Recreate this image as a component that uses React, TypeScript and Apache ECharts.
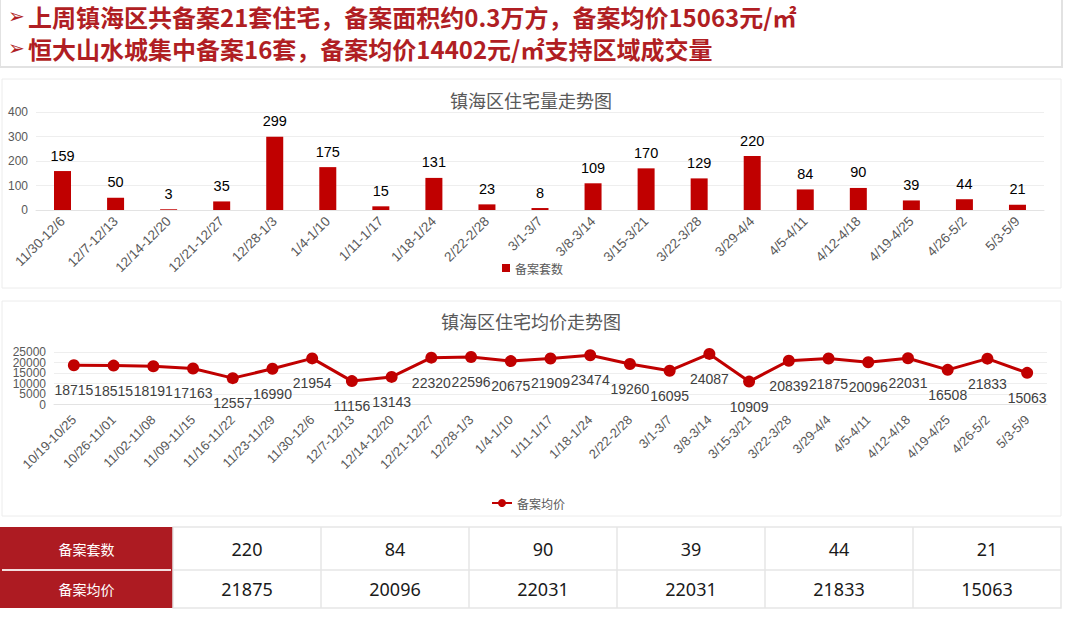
import React, { useEffect, useRef } from "react";
import * as echarts from "echarts";

const headerLines = [
  "上周镇海区共备案21套住宅，备案面积约0.3万方，备案均价15063元/㎡",
  "恒大山水城集中备案16套，备案均价14402元/㎡支持区域成交量",
];

const barTitle = "镇海区住宅量走势图";
const lineTitle = "镇海区住宅均价走势图";
const barSeriesName = "备案套数";
const lineSeriesName = "备案均价";

const barCats = [
  "11/30-12/6", "12/7-12/13", "12/14-12/20", "12/21-12/27", "12/28-1/3",
  "1/4-1/10", "1/11-1/17", "1/18-1/24", "2/22-2/28", "3/1-3/7",
  "3/8-3/14", "3/15-3/21", "3/22-3/28", "3/29-4/4", "4/5-4/11",
  "4/12-4/18", "4/19-4/25", "4/26-5/2", "5/3-5/9",
];
const barVals = [159, 50, 3, 35, 299, 175, 15, 131, 23, 8, 109, 170, 129, 220, 84, 90, 39, 44, 21];

const lineCats = [
  "10/19-10/25", "10/26-11/01", "11/02-11/08", "11/09-11/15", "11/16-11/22",
  "11/23-11/29", "11/30-12/6", "12/7-12/13", "12/14-12/20", "12/21-12/27",
  "12/28-1/3", "1/4-1/10", "1/11-1/17", "1/18-1/24", "2/22-2/28",
  "3/1-3/7", "3/8-3/14", "3/15-3/21", "3/22-3/28", "3/29-4/4",
  "4/5-4/11", "4/12-4/18", "4/19-4/25", "4/26-5/2", "5/3-5/9",
];
const lineVals = [
  18715, 18515, 18191, 17163, 12557, 16990, 21954, 11156, 13143, 22320,
  22596, 20675, 21909, 23474, 19260, 16095, 24087, 10909, 20839, 21875,
  20096, 22031, 16508, 21833, 15063,
];

const tableRowHeaders = ["备案套数", "备案均价"];
const tableCounts = [220, 84, 90, 39, 44, 21];
const tablePrices = [21875, 20096, 22031, 22031, 21833, 15063];

const RED = "#C00000";
const DARKRED = "#AD1B22";
const GRAY = "#595959";
const CJK = "'Noto Sans CJK SC', 'Noto Sans', sans-serif";
const NUM = "'Liberation Sans', Arial, sans-serif";

function buildGraphic() {
  const g: any[] = [];
  g.push({ type: "rect", z: 0, shape: { x: 0, y: -2, width: 1062, height: 69 }, style: { fill: "#fff", stroke: "#e2e2e2", lineWidth: 2 } });
  headerLines.forEach((t, i) => {
    const y = 16 + i * 32;
    g.push({ type: "text", z: 1, x: 8, y, style: { text: "➢", fontSize: 20, fill: "#B01E23", fontFamily: "'DejaVu Sans', sans-serif", verticalAlign: "middle" } });
    g.push({ type: "text", z: 1, x: 28, y, style: { text: t, fontSize: 24, fontWeight: "bold", fill: "#B01E23", fontFamily: CJK, verticalAlign: "middle" } });
  });
  g.push({ type: "rect", z: 0, shape: { x: 2, y: 79, width: 1059, height: 209 }, style: { fill: "#fff", stroke: "#ececec", lineWidth: 1 } });
  g.push({ type: "rect", z: 0, shape: { x: 2, y: 301, width: 1059, height: 215 }, style: { fill: "#fff", stroke: "#ececec", lineWidth: 1 } });
  const top = 527, mid = 570, bot = 608, left = 173, right = 1061;
  const colW = (right - left) / tableCounts.length;
  g.push({ type: "rect", z: 1, shape: { x: 0, y: top, width: left, height: bot - top }, style: { fill: DARKRED } });
  g.push({ type: "line", z: 2, shape: { x1: 2, y1: mid, x2: left - 2, y2: mid }, style: { stroke: "#f3dede", lineWidth: 2 } });
  tableRowHeaders.forEach((t, i) => {
    const cy = i === 0 ? (top + mid) / 2 : (mid + bot) / 2;
    g.push({ type: "text", z: 2, x: left / 2, y: cy, style: { text: t, fontSize: 14, fill: "#fff", fontFamily: CJK, align: "center", verticalAlign: "middle" } });
  });
  g.push({ type: "rect", z: 1, shape: { x: left, y: top, width: right - left, height: bot - top }, style: { fill: "#fff", stroke: "#e6e6e6", lineWidth: 1.5 } });
  g.push({ type: "line", z: 2, shape: { x1: left, y1: mid, x2: right, y2: mid }, style: { stroke: "#e6e6e6", lineWidth: 1.5 } });
  for (let c = 1; c < tableCounts.length; c++) {
    const x = left + c * colW;
    g.push({ type: "line", z: 2, shape: { x1: x, y1: top, x2: x, y2: bot }, style: { stroke: "#e6e6e6", lineWidth: 1.5 } });
  }
  [tableCounts, tablePrices].forEach((row, i) => {
    const cy = i === 0 ? (top + mid) / 2 : (mid + bot) / 2;
    row.forEach((v, c) => {
      g.push({ type: "text", z: 3, x: left + colW * (c + 0.5), y: cy, style: { text: String(v), fontSize: 18, fill: "#1a1a1a", fontFamily: "'Noto Sans', sans-serif", align: "center", verticalAlign: "middle" } });
    });
  });
  return g;
}

export default function App() {
  const ref = useRef<HTMLDivElement>(null);
  useEffect(() => {
    if (!ref.current) return;
    const chart = echarts.init(ref.current, undefined, { renderer: "svg" });
    const priceLabel = { fontSize: 12, color: GRAY, margin: 8, fontFamily: NUM, lineHeight: 11 };
    const option: any = {
      animation: false,
      backgroundColor: "#fff",
      title: [
        { text: barTitle, left: 531, top: 91, textAlign: "center", padding: 0, textStyle: { fontSize: 18, fontWeight: "normal", color: GRAY, fontFamily: CJK } },
        { text: lineTitle, left: 531, top: 312, textAlign: "center", padding: 0, textStyle: { fontSize: 18, fontWeight: "normal", color: GRAY, fontFamily: CJK } },
      ],
      legend: [
        { data: [barSeriesName], left: 502, top: 262, padding: 0, itemWidth: 8, itemHeight: 8, icon: "rect", itemGap: 4, textStyle: { fontSize: 12, color: GRAY, fontFamily: CJK } },
        { data: [lineSeriesName], left: 491, top: 497, padding: 0, itemWidth: 20, itemHeight: 10, textStyle: { fontSize: 12, color: GRAY, fontFamily: CJK } },
      ],
      grid: [
        { left: 36, top: 112, width: 1008, height: 98 },
        { left: 54, top: 352, width: 993, height: 52.5 },
      ],
      xAxis: [
        { type: "category", gridIndex: 0, data: barCats, axisTick: { show: false }, axisLine: { lineStyle: { color: "#e3e3e3" } }, axisLabel: { interval: 0, rotate: 45, fontSize: 13.5, color: GRAY, fontFamily: NUM, margin: 9 } },
        { type: "category", gridIndex: 1, data: lineCats, axisTick: { show: false }, axisLine: { lineStyle: { color: "#e3e3e3" } }, axisLabel: { interval: 0, rotate: 45, fontSize: 13, color: GRAY, fontFamily: NUM, margin: 13 } },
      ],
      yAxis: [
        { type: "value", gridIndex: 0, min: 0, max: 400, interval: 100, axisLabel: { fontSize: 12, color: GRAY, margin: 8, fontFamily: NUM }, splitLine: { lineStyle: { color: "#eeeeee" } } },
        {
          type: "value", gridIndex: 1, min: 0, max: 25000, interval: 5000,
          axisLabel: { ...priceLabel, showMinLabel: true, formatter: (v: number) => (v % 10000 === 0 ? String(v) : "") },
          splitLine: { lineStyle: { color: "#eeeeee" } },
        },
        {
          type: "value", gridIndex: 1, min: 0, max: 25000, interval: 5000, position: "left",
          axisLine: { show: false }, axisTick: { show: false }, splitLine: { show: false },
          axisLabel: { ...priceLabel, showMaxLabel: true, formatter: (v: number) => (v % 10000 !== 0 ? String(v) : "") },
        },
      ],
      series: [
        {
          type: "bar", name: barSeriesName, xAxisIndex: 0, yAxisIndex: 0, data: barVals, barWidth: 17,
          itemStyle: { color: RED },
          label: { show: true, position: "top", distance: 8, fontSize: 14.5, color: "#000", fontFamily: NUM },
        },
        {
          type: "line", name: lineSeriesName, xAxisIndex: 1, yAxisIndex: 1, data: lineVals,
          symbol: "circle", symbolSize: 12,
          lineStyle: { width: 3, color: RED }, itemStyle: { color: RED },
          label: { show: true, position: "bottom", distance: 12, fontSize: 14, color: "#404040", fontFamily: NUM },
        },
      ],
      graphic: buildGraphic(),
    };
    chart.setOption(option);
    return () => chart.dispose();
  }, []);
  return <div ref={ref} style={{ position: "fixed", left: 0, top: 0, width: 1080, height: 622 }} />;
}
